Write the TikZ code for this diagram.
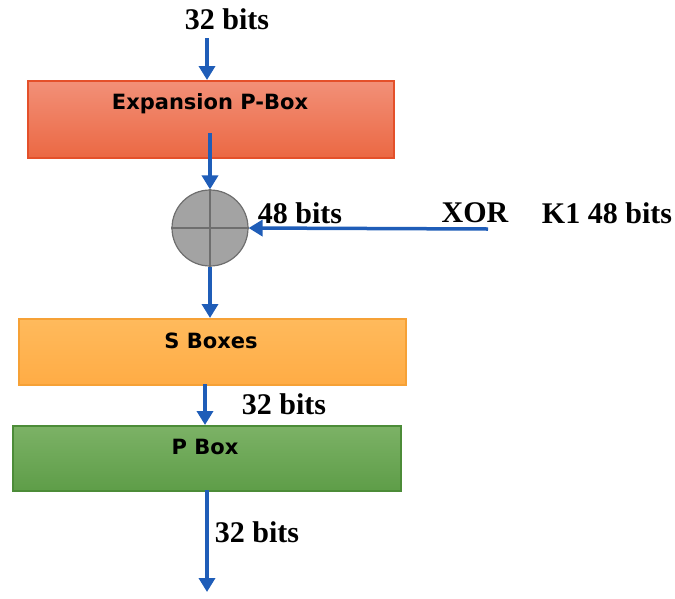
\documentclass[tikz,border=0pt]{standalone}
\usepackage{fontspec}
\setmainfont{Liberation Serif}
\setsansfont{DejaVu Sans}
\usetikzlibrary{arrows.meta}
\definecolor{flow}{HTML}{1F5DB8}
\definecolor{expTop}{HTML}{F29078}
\definecolor{expBot}{HTML}{EB6843}
\definecolor{expLine}{HTML}{E4502A}
\definecolor{sTop}{HTML}{FFBA5C}
\definecolor{sBot}{HTML}{FFAC45}
\definecolor{sLine}{HTML}{F6A136}
\definecolor{pTop}{HTML}{7CB266}
\definecolor{pBot}{HTML}{5E9D48}
\definecolor{pLine}{HTML}{4C8C38}
\definecolor{xorFill}{HTML}{A3A3A3}
\definecolor{xorLine}{HTML}{6E6E6E}
\begin{document}
\begin{tikzpicture}[x=1pt,y=-1pt]
\useasboundingbox (0,0) rectangle (675,598);
\tikzset{
  block/.style={draw, line width=1.6pt, inner sep=0pt, anchor=north west},
  flowarrow/.style={draw=flow, line width=3.5pt, -{Triangle[width=16pt,length=14pt]}},
  bits/.style={font=\fontsize{30}{32}\selectfont\bfseries, inner sep=0pt},
  title/.style={font=\sffamily\bfseries\fontsize{21}{24}\selectfont, inner sep=0pt}
}

% processing blocks
\node[block, draw=expLine, top color=expTop, bottom color=expBot,
      minimum width=366pt, minimum height=77pt] (exp) at (27,80) {};
\node[block, draw=sLine, top color=sTop, bottom color=sBot,
      minimum width=387pt, minimum height=66pt] (sbox) at (18,318) {};
\node[block, draw=pLine, top color=pTop, bottom color=pBot,
      minimum width=388pt, minimum height=65pt] (pbox) at (12,425) {};

\node[title] (expt) at (210,104) {Expansion P-Box};
\node[title] (st) at (211,341) {S Boxes};
\node[title] (pt) at (205,447) {P Box};

% XOR element
\node[circle, draw=xorLine, fill=xorFill, line width=1.2pt,
      minimum size=76pt, inner sep=0pt] (xor) at (210,228) {};
\draw[xorLine, line width=1.2pt] (xor.north) -- (xor.south);
\draw[xorLine, line width=1.2pt] (xor.west) -- (xor.east);

% free ends of the flow
\coordinate (in) at (207,38);
\coordinate (expout) at (210,133);
\coordinate (key) at (488,229);
\coordinate (sout) at (205,384);
\coordinate (pout) at (207,490);
\coordinate (out) at (207,592);

% data flow
\draw[flowarrow] (in) -- (in |- exp.north);
\draw[flowarrow] (expout) -- (xor.north);
\draw[flowarrow] (key) -- (xor.east);
\draw[flowarrow] (xor.south) -- (xor.south |- sbox.north);
\draw[flowarrow] (sout) -- (sout |- pbox.north);
\draw[flowarrow] (pout) -- (out);

% labels
\node[bits] (l1) at (227,19) {32 bits};
\node[bits] (l2) at (300,213) {48 bits};
\node[bits] (l3) at (475,213) {XOR};
\node[bits] (l4) at (607,213) {K1 48 bits};
\node[bits] (l5) at (284,404) {32 bits};
\node[bits] (l6) at (257,532) {32 bits};
\end{tikzpicture}
\end{document}
